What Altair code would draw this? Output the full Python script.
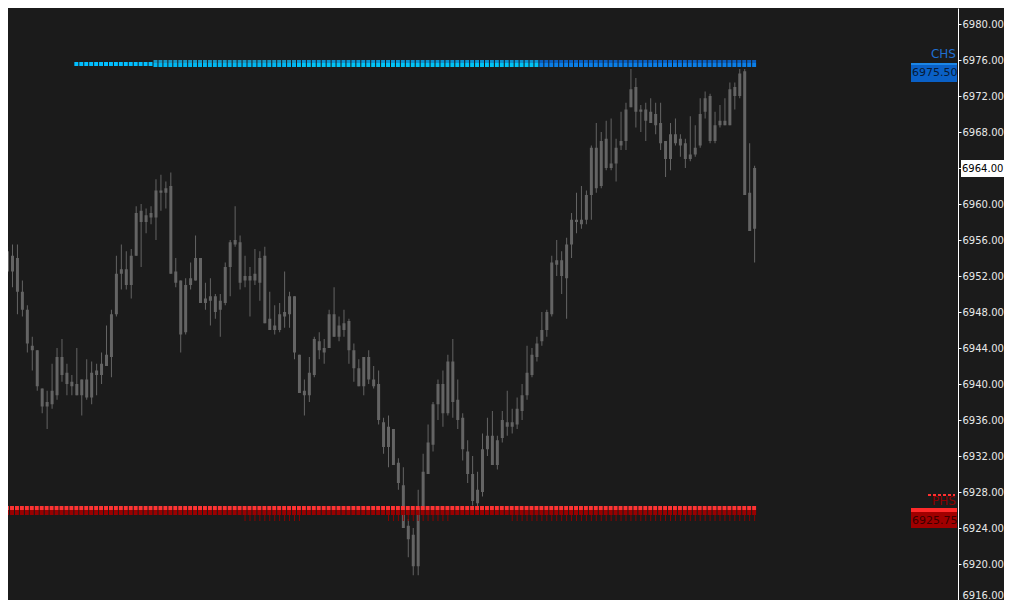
import altair as alt
import pandas as pd

# ---------------- data ----------------
highs = [6955.25, 6955.5, 6955.5, 6951.5, 6948.75, 6945.25, 6943.75, 6939.5, 6939.25, 6942.25,
         6944.0, 6945.0, 6942.25, 6941.0, 6944.0, 6940.5, 6942.75, 6942.5, 6942.25, 6943.5,
         6946.5, 6948.25, 6954.25, 6955.5, 6954.75, 6955.0, 6959.75, 6960.0, 6959.5, 6959.75,
         6962.75, 6963.25, 6962.5, 6963.5, 6954.0, 6951.5, 6951.75, 6953.5, 6956.5, 6954.0,
         6951.25, 6951.75, 6950.0, 6950.0, 6953.5, 6956.0, 6959.75, 6956.5, 6954.25, 6953.0,
         6955.0, 6954.75, 6955.25, 6950.25, 6948.75, 6949.0, 6952.5, 6950.25, 6949.75, 6943.25,
         6940.5, 6943.0, 6945.25, 6945.75, 6945.0, 6948.25, 6950.75, 6947.5, 6948.25, 6947.25,
         6944.5, 6942.75, 6943.0, 6943.75, 6942.0, 6941.5, 6936.25, 6936.5, 6935.0, 6931.75,
         6930.75, 6925.0, 6924.0, 6928.25, 6932.25, 6935.5, 6938.0, 6940.5, 6941.5, 6943.25,
         6945.0, 6940.5, 6936.75, 6933.75, 6932.0, 6930.25, 6934.5, 6936.25, 6937.0, 6934.25,
         6937.0, 6939.25, 6937.25, 6938.5, 6940.0, 6944.25, 6944.0, 6945.25, 6948.0, 6948.25,
         6954.25, 6956.0, 6954.75, 6956.25, 6959.0, 6961.25, 6962.0, 6961.5, 6966.5, 6969.0,
         6968.0, 6969.25, 6969.5, 6967.25, 6970.25, 6971.25, 6975.0, 6974.0, 6971.0, 6971.25,
         6971.75, 6971.25, 6971.25, 6967.0, 6969.0, 6969.5, 6967.75, 6967.25, 6969.75, 6968.75,
         6971.75, 6972.5, 6972.25, 6970.25, 6971.0, 6971.75, 6973.5, 6973.5, 6975.0, 6975.0,
         6966.75, 6964.25]
lows = [6952.25, 6950.75, 6947.75, 6947.5, 6943.5, 6941.5, 6939.25, 6936.75, 6935.0, 6937.25,
        6938.25, 6940.25, 6938.75, 6938.75, 6938.75, 6936.5, 6938.25, 6937.75, 6938.75, 6940.0,
        6942.0, 6940.75, 6947.5, 6950.5, 6950.5, 6949.5, 6954.25, 6953.0, 6956.75, 6957.75,
        6956.0, 6959.25, 6959.5, 6952.25, 6950.75, 6943.5, 6945.5, 6950.5, 6951.5, 6949.0,
        6948.25, 6946.5, 6947.25, 6945.25, 6948.75, 6949.75, 6955.25, 6950.5, 6950.75, 6947.5,
        6951.0, 6949.25, 6946.75, 6946.0, 6945.5, 6945.75, 6946.25, 6946.25, 6942.75, 6939.0,
        6936.5, 6938.0, 6940.75, 6942.75, 6942.25, 6944.0, 6945.25, 6944.75, 6945.25, 6942.25,
        6940.25, 6939.75, 6938.75, 6940.0, 6939.5, 6935.5, 6932.25, 6930.75, 6931.0, 6928.25,
        6924.0, 6920.75, 6918.75, 6918.75, 6925.75, 6930.0, 6932.5, 6936.0, 6935.25, 6936.5,
        6936.25, 6935.0, 6931.5, 6929.0, 6926.5, 6926.25, 6927.5, 6932.0, 6931.0, 6930.5,
        6933.5, 6934.25, 6934.5, 6935.0, 6936.0, 6938.25, 6940.75, 6942.5, 6944.25, 6945.25,
        6947.5, 6952.0, 6950.0, 6947.25, 6954.0, 6956.75, 6957.25, 6957.75, 6958.25, 6961.25,
        6961.75, 6963.75, 6963.75, 6962.5, 6966.0, 6966.0, 6970.75, 6968.5, 6968.0, 6967.0,
        6969.0, 6967.75, 6966.0, 6963.0, 6963.75, 6966.5, 6965.25, 6964.0, 6964.75, 6965.25,
        6966.25, 6969.5, 6966.75, 6966.75, 6968.5, 6968.75, 6968.75, 6970.5, 6971.75, 6961.0,
        6957.0, 6953.5]
opens = [6954.75, 6954.25, 6954.0, 6950.25, 6948.25, 6944.25, 6943.75, 6939.5, 6937.5, 6937.75,
         6938.75, 6943.0, 6941.25, 6940.25, 6940.0, 6938.75, 6940.5, 6938.5, 6941.0, 6941.0,
         6942.0, 6943.0, 6947.75, 6952.25, 6952.75, 6951.0, 6954.25, 6959.25, 6958.0, 6958.5,
         6958.5, 6961.5, 6961.25, 6962.0, 6952.5, 6951.5, 6945.75, 6951.0, 6951.5, 6954.0,
         6949.0, 6949.75, 6949.75, 6948.25, 6949.0, 6953.0, 6955.5, 6955.75, 6951.5, 6952.0,
         6951.5, 6951.25, 6954.25, 6946.0, 6946.5, 6946.0, 6947.5, 6947.75, 6949.75, 6943.25,
         6938.75, 6938.75, 6941.0, 6944.75, 6943.5, 6944.0, 6947.75, 6945.25, 6946.0, 6947.0,
         6943.75, 6941.75, 6939.75, 6943.0, 6940.5, 6940.0, 6935.75, 6933.0, 6935.0, 6931.25,
         6928.75, 6924.25, 6923.25, 6919.75, 6926.0, 6930.0, 6933.25, 6937.75, 6940.0, 6936.75,
         6942.5, 6938.25, 6936.25, 6932.5, 6930.0, 6926.75, 6928.0, 6932.75, 6934.25, 6931.0,
         6934.0, 6935.75, 6935.25, 6935.5, 6937.0, 6938.75, 6941.0, 6943.0, 6944.75, 6946.0,
         6947.75, 6953.25, 6953.75, 6951.75, 6955.5, 6958.0, 6958.25, 6958.25, 6961.0, 6966.25,
         6962.0, 6967.25, 6964.0, 6964.5, 6966.5, 6967.0, 6970.75, 6973.0, 6970.25, 6970.5,
         6969.0, 6970.0, 6969.0, 6967.0, 6965.0, 6967.75, 6967.25, 6966.75, 6965.0, 6965.5,
         6966.5, 6970.25, 6972.0, 6967.0, 6968.75, 6969.25, 6968.75, 6973.0, 6972.0, 6974.75,
         6961.25, 6957.25]
closes = [6952.5, 6952.5, 6950.25, 6948.25, 6944.5, 6943.75, 6939.75, 6937.5, 6938.0, 6939.25,
          6943.0, 6941.0, 6940.0, 6939.75, 6938.75, 6940.5, 6938.5, 6941.25, 6941.5, 6942.25,
          6943.25, 6947.75, 6952.25, 6952.75, 6951.0, 6954.25, 6959.0, 6958.0, 6958.75, 6959.0,
          6961.5, 6961.25, 6961.75, 6952.25, 6951.25, 6945.5, 6951.0, 6951.75, 6954.0, 6949.0,
          6949.5, 6949.25, 6948.0, 6949.25, 6953.0, 6955.75, 6956.0, 6951.25, 6952.0, 6951.5,
          6952.25, 6954.0, 6946.75, 6947.25, 6946.0, 6947.75, 6948.0, 6949.75, 6943.5, 6939.0,
          6939.25, 6941.25, 6945.0, 6943.75, 6944.0, 6947.75, 6945.25, 6946.5, 6946.75, 6943.75,
          6941.75, 6939.75, 6943.0, 6940.5, 6939.75, 6936.0, 6933.0, 6935.25, 6931.0, 6929.0,
          6924.0, 6922.75, 6919.75, 6926.25, 6930.25, 6933.5, 6937.75, 6940.0, 6936.75, 6942.5,
          6938.0, 6936.0, 6932.75, 6930.0, 6927.0, 6928.25, 6932.75, 6934.25, 6931.0, 6933.75,
          6936.0, 6935.25, 6935.75, 6937.25, 6938.75, 6941.25, 6943.25, 6944.5, 6946.0, 6948.0,
          6953.5, 6953.75, 6952.0, 6955.5, 6958.25, 6958.25, 6957.75, 6961.0, 6966.25, 6961.75,
          6967.0, 6964.0, 6964.5, 6966.25, 6967.0, 6970.5, 6972.75, 6970.25, 6970.5, 6969.25,
          6970.25, 6968.75, 6966.75, 6965.0, 6967.75, 6966.75, 6966.5, 6965.0, 6965.5, 6966.25,
          6970.0, 6971.75, 6967.0, 6968.75, 6969.25, 6968.75, 6972.75, 6972.0, 6974.5, 6961.0,
          6957.0, 6964.0]

price_ticks = [6916, 6920, 6924, 6928, 6932, 6936, 6940, 6944, 6948, 6952, 6956, 6960,
               6964, 6968, 6972, 6976, 6980]

chs_level = 6975.50
phs_level = 6925.75
last_price = 6964.00

# CHS marker row: bar index where each colour segment starts / ends
chs_seg_starts = [14, 30, 59, 108]
chs_seg_ends = [29, 58, 107, 151]
# PHS marker row: bar ranges carrying the small hanging ticks
phs_tick_starts = [48, 77, 102]
phs_tick_ends = [59, 89, 151]

# ---------------- style ----------------
BG = "#1b1b1b"
CANDLE = "#646464"
AXIS_C = "#ffffff"
LABEL_C = "#e8e8e8"
FONT = "DejaVu Sans"
PX = 1 / 9.0                      # price units per pixel
Y_DOMAIN = [6916, 6980 + 16 * PX]
X_DOMAIN = [1.1, 191.1]
PLOT_W, PLOT_H = 950, 592

chs_top_cols = [None, "#1795c2", "#0b93d2", "#0a5fc0"]
chs_bot_cols = ["#00bfff", "#00b6f0", "#00c3f5", "#0a7ee6"]
RED_HI = "#ff3333"
RED_LO = "#990000"
RED_TICK = "#8b0000"

n = len(highs)
candles = pd.DataFrame({
    "i": list(range(n)),
    "high": highs, "low": lows, "open": opens, "close": closes,
})
candles["top"] = candles[["open", "close"]].max(axis=1)
candles["bot"] = candles[["open", "close"]].min(axis=1)

xs = alt.Scale(domain=X_DOMAIN, nice=False, zero=False)
ys = alt.Scale(domain=Y_DOMAIN, nice=False, zero=False)
yaxis = alt.Axis(orient="right", values=price_ticks, format=".2f", grid=False, title=None,
                 domainColor=AXIS_C, tickColor=AXIS_C, tickSize=3, labelPadding=1,
                 labelColor=LABEL_C, labelFont=FONT, labelFontSize=10,
                 labelOverlap=False, labelFlush=True)


def Y(field):
    return alt.Y(field, scale=ys, axis=yaxis, title=None)


base = alt.Chart(candles)
wicks = base.mark_rule(color=CANDLE, strokeWidth=1).encode(
    x=alt.X("i:Q", scale=xs, axis=None),
    y=Y("low:Q"),
    y2="high:Q",
)
bodies = base.mark_bar(size=3, color=CANDLE).encode(
    x=alt.X("i:Q", scale=xs, axis=None),
    y=Y("bot:Q"),
    y2="top:Q",
)


def px_price(level, offset_px):
    return level - offset_px * PX


rows = []
for s, e, tc, bc in zip(chs_seg_starts, chs_seg_ends, chs_top_cols, chs_bot_cols):
    for k in range(s, e + 1):
        if tc is None:
            rows.append(dict(x1=k - 0.5, x2=k + 0.3, y1=px_price(chs_level, -2.5),
                             y2=px_price(chs_level, 1.5), c=bc))
        else:
            rows.append(dict(x1=k - 0.5, x2=k + 0.3, y1=px_price(chs_level, -4.5),
                             y2=px_price(chs_level, -1.5), c=tc))
            rows.append(dict(x1=k - 0.5, x2=k + 0.3, y1=px_price(chs_level, -1.5),
                             y2=px_price(chs_level, 2.5), c=bc))
for k in range(n):
    rows.append(dict(x1=k - 0.5, x2=k + 0.3, y1=px_price(phs_level, -6.25),
                     y2=px_price(phs_level, -2.25), c=RED_HI))
    rows.append(dict(x1=k - 0.5, x2=k + 0.3, y1=px_price(phs_level, -2.25),
                     y2=px_price(phs_level, 2.75), c=RED_LO))
marks_df = pd.DataFrame(rows)
markers = alt.Chart(marks_df).mark_rect().encode(
    x=alt.X("x1:Q", scale=xs, axis=None), x2="x2:Q",
    y=Y("y1:Q"), y2="y2:Q",
    color=alt.Color("c:N", scale=None),
)

tick_rows = []
for s, e in zip(phs_tick_starts, phs_tick_ends):
    for k in range(s, e + 1):
        tick_rows.append(dict(i=k, y1=px_price(phs_level, 2.75), y2=px_price(phs_level, 8.75)))
ticks = alt.Chart(pd.DataFrame(tick_rows)).mark_rule(color=RED_TICK, strokeWidth=1).encode(
    x=alt.X("i:Q", scale=xs, axis=None),
    y=Y("y1:Q"), y2="y2:Q",
)


def box(level, top_px, bot_px, x1, x2, color):
    d = pd.DataFrame({"y1": [px_price(level, top_px)], "y2": [px_price(level, bot_px)]})
    return alt.Chart(d).mark_rect(color=color).encode(
        x=alt.value(x1), x2=alt.value(x2),
        y=Y("y1:Q"), y2="y2:Q")


def label(level, off_px, text, x, align, color, size):
    d = pd.DataFrame({"y": [px_price(level, off_px)], "t": [text]})
    return alt.Chart(d).mark_text(align=align, baseline="middle", font=FONT,
                                  fontSize=size, color=color).encode(
        x=alt.value(x), y=Y("y:Q"), text="t:N")


chs_box = box(chs_level, -1.5, 17.5, 903, 949, "#0a60c6")
chs_strip = box(chs_level, -1.5, 0.5, 903, 949, "#1c86e6")
chs_txt = label(chs_level, 8.5, f"{chs_level:.2f}", 904, "left", "#071b36", 11)
chs_name = label(chs_level, -10.5, "CHS", 948, "right", "#1f6fd1", 12)

last_box = box(last_price, -8, 9, 953, 1002, "#ffffff")
last_txt = label(last_price, 0.5, f"{last_price:.2f}", 954, "left", "#000000", 10)

phs_strip = box(phs_level, -4.25, -0.25, 903, 949, "#ff2a2a")
phs_box = box(phs_level, -0.25, 15.75, 903, 949, "#a00000")
phs_txt = label(phs_level, 8.75, f"{phs_level:.2f}", 904, "left", "#3a0000", 11)
phs_name = label(phs_level, -11.25, "PHS", 948, "right", "#8b0000", 12)
dash_df = pd.DataFrame({"y": [px_price(phs_level, -17.25)]})
phs_dash = alt.Chart(dash_df).mark_rule(color="#ff3030", strokeWidth=2, strokeDash=[3, 2]).encode(
    x=alt.value(920), x2=alt.value(947), y=Y("y:Q"))

chart = alt.layer(
    wicks, bodies, markers, ticks,
    chs_box, chs_strip, chs_txt, chs_name,
    phs_dash, phs_strip, phs_box, phs_txt, phs_name,
    last_box, last_txt,
).properties(
    width=PLOT_W, height=PLOT_H,
    padding={"left": 0, "top": 0, "right": 46, "bottom": 0},
    autosize=alt.AutoSizeParams(type="none"),
    background=BG,
).configure_view(stroke=None, fill=BG)

chart.save("out.html", embed_options={"renderer": "svg", "actions": False})
